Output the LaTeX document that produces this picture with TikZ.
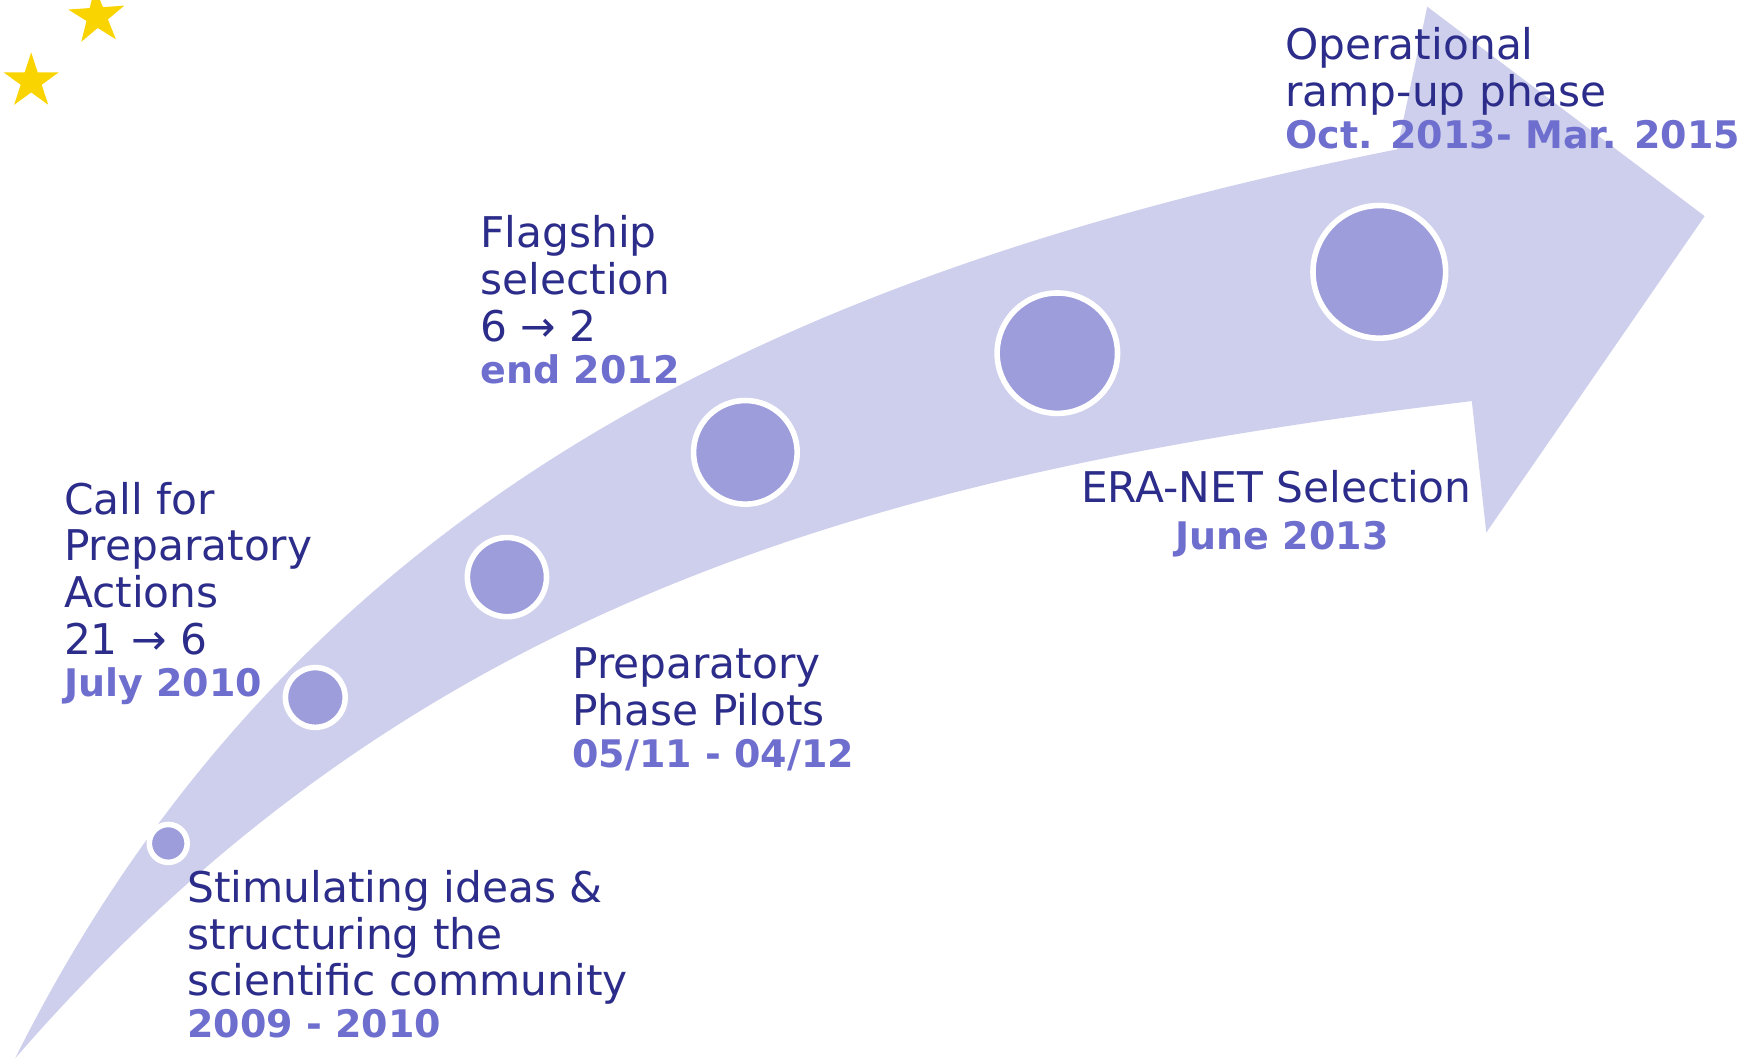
\documentclass[tikz,border=0pt]{standalone}
\usepackage{fontspec}
\setmainfont{DejaVu Sans}
\usepackage{tikz}
\usetikzlibrary{shapes,positioning}
\usepackage{xcolor}
\definecolor{bandcol}{RGB}{206,207,237}
\definecolor{dotcol}{RGB}{157,157,219}
\definecolor{inkcol}{RGB}{44,44,138}
\definecolor{datecol}{RGB}{110,110,206}
\definecolor{starcol}{RGB}{250,212,0}
\newcommand{\phasedate}[1]{{\fontsize{9.7pt}{11pt}\selectfont\bfseries\color{datecol}#1}}

\begin{document}
\begin{tikzpicture}[x=0.01cm,y=-0.01cm]
    %styles
    \tikzstyle{milestone}=[circle,fill=dotcol,draw=white,line width=0.05cm,inner sep=0]
    \tikzstyle{phase}=[anchor=north west,align=left,inner sep=0,text=inkcol,font=\fontsize{10.8pt}{11.9pt}\selectfont]
    \tikzstyle{eustar}=[star,star points=5,star point ratio=2.618,fill=starcol,inner sep=0]
    \useasboundingbox (0,0) rectangle (1568,952);
    %band
    \fill[bandcol] (13.5,950) .. controls (263.5,450) and (704,244) .. (1254,134)
        -- (1281,6) -- (1530,194) -- (1334,478) -- (1321,360)
        .. controls (761,427) and (358.5,553) .. (13.5,950) -- cycle;
    %stars
    \node[eustar,minimum size=0.53cm,rotate=4] (s1) at (87,15) {};
    \node[eustar,minimum size=0.52cm] (s2) at (28,73) {};
    %milestones
    \node[milestone,minimum size=0.34cm] (c1) at (151,757) {};
    \node[milestone,minimum size=0.536cm] (c2) at (283,626) {};
    \node[milestone,minimum size=0.71cm] (c3) at (455,518) {};
    \node[milestone,minimum size=0.93cm] (c4) at (669,406) {};
    \node[milestone,minimum size=1.08cm] (c5) at (949,317) {};
    \node[milestone,minimum size=1.19cm] (c6) at (1238,244) {};
    %labels
    \node[phase] (t1) at (167.5,780.5) {Stimulating ideas \&\\structuring the\\scientific community\\[-1.2pt]\phasedate{2009 - 2010}};
    \node[phase] (t2) at (56.8,432) {Call for\\Preparatory\\Actions\\21 → 6\\[-1.2pt]\phasedate{July 2010}};
    \node[phase] (t3) at (430.5,193) {Flagship\\selection\\6 → 2\\[-1.2pt]\phasedate{end 2012}};
    \node[phase] (t4) at (513,581) {Preparatory\\Phase Pilots\\[-1.2pt]\phasedate{05/11 - 04/12}};
    \node[phase,anchor=north,align=center] (t5) at (1145.5,421.5) {ERA-NET Selection\\\hspace*{3pt}\phasedate{June 2013}};
    \node[phase] (t6) at (1153,24) {Operational\\ramp-up phase\\[-1.2pt]\phasedate{Oct. 2013- Mar. 2015}};
\end{tikzpicture}
\end{document}
